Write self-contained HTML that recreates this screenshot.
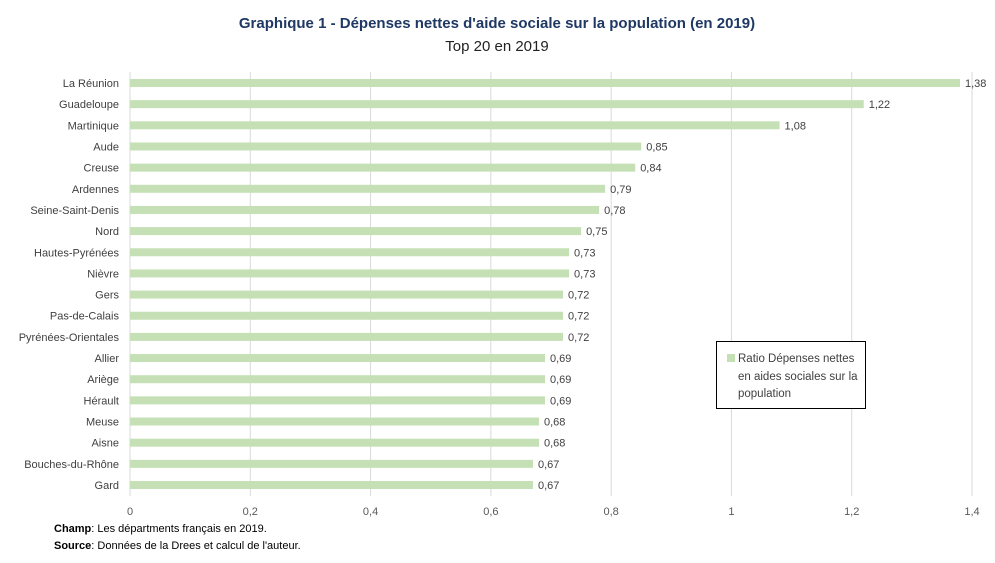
<!DOCTYPE html>
<html><head><meta charset="utf-8"><style>
body{margin:0;background:#fff;font-family:"Liberation Sans",sans-serif;}
svg text{font-family:"Liberation Sans",sans-serif;}
</style></head><body>
<svg id="c" width="995" height="558">
<text x="497" y="28" text-anchor="middle" font-size="15" font-weight="bold" fill="#1f3864">Graphique 1 - Dépenses nettes d'aide sociale sur la population (en 2019)</text>
<text x="497" y="51" text-anchor="middle" font-size="15" fill="#222">Top 20 en 2019</text>
<g id="grid"></g>
<g id="bars"></g>
<g id="xt"></g>
<g>
<rect x="716.5" y="341.5" width="149" height="67" fill="#fff" stroke="#000"/>
<rect x="727" y="354" width="8" height="8" fill="#c5e0b4"/>
<text font-size="11.5" fill="#404040"><tspan x="738" y="362">Ratio Dépenses nettes</tspan><tspan x="738" y="380">en aides sociales sur la</tspan><tspan x="738" y="397">population</tspan></text>
</g>
<text x="54" y="532" font-size="11" fill="#000"><tspan font-weight="bold">Champ</tspan>: Les départments français en 2019.</text>
<text x="54" y="549" font-size="11" fill="#000"><tspan font-weight="bold">Source</tspan>: Données de la Drees et calcul de l'auteur.</text>
</svg>
<script>
const categories=["La Réunion","Guadeloupe","Martinique","Aude","Creuse","Ardennes","Seine-Saint-Denis","Nord","Hautes-Pyrénées","Nièvre","Gers","Pas-de-Calais","Pyrénées-Orientales","Allier","Ariège","Hérault","Meuse","Aisne","Bouches-du-Rhône","Gard"];
const values=[1.38,1.22,1.08,0.85,0.84,0.79,0.78,0.75,0.73,0.73,0.72,0.72,0.72,0.69,0.69,0.69,0.68,0.68,0.67,0.67];
const ticks=[0,0.2,0.4,0.6,0.8,1,1.2,1.4];
const NS="http://www.w3.org/2000/svg";
const x=v=>130+v*(842/1.4);
const y=i=>83+i*(402/19);
function mk(t,a,p){const e=document.createElementNS(NS,t);for(const k in a)e.setAttribute(k,a[k]);p.appendChild(e);return e;}
const g=document.getElementById('grid'),b=document.getElementById('bars'),xt=document.getElementById('xt');
ticks.forEach(t=>{
 const l=mk('line',{x1:x(t),x2:x(t),y1:72,y2:496,stroke:'#d9d9d9'},g);
 
 
 const tx=mk('text',{x:x(t),y:515,'text-anchor':'middle','font-size':11,fill:'#595959'},xt);
 tx.textContent=String(t).replace('.',',');
 
 
});
categories.forEach((c,i)=>{
 const r=mk('rect',{x:x(0),y:y(i)-4,width:x(values[i])-x(0),height:8,fill:'#c5e0b4'},b);
 
 
 const lb=mk('text',{x:119,y:y(i)+4,'text-anchor':'end','font-size':11,fill:'#404040'},b);
 lb.textContent=c;
 
 
 const v=mk('text',{x:x(values[i])+5,y:y(i)+4,'font-size':11,fill:'#404040'},b);
 v.textContent=values[i].toFixed(2).replace('.',',');
 
 
});
</script>
</body></html>
